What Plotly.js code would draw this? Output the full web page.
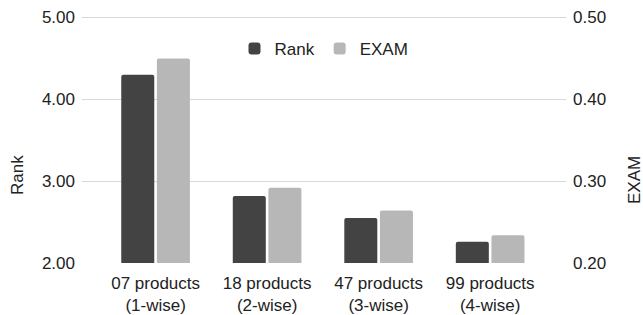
<!DOCTYPE html>
<html>
<head>
<meta charset="utf-8">
<script src="https://cdn.plot.ly/plotly-3.0.1.min.js"></script>
<style>html,body{margin:0;padding:0;background:#fff;}#chart{width:643px;height:315px;}</style>
</head>
<body>
<div id="chart"></div>
<script>
const categories = ["07 products<br>(1-wise)", "18 products<br>(2-wise)", "47 products<br>(3-wise)", "99 products<br>(4-wise)"];
const rankValues = [4.30, 2.82, 2.55, 2.26];
const examValues = [0.450, 0.292, 0.264, 0.234];
const rankTicks = [2, 3, 4, 5];
const examTicks = [0.2, 0.3, 0.4, 0.5];

const fam = "Liberation Sans, Arial, sans-serif";
const txt = {family: fam, size: 17, color: "#222"};

const traces = [
  {type: "bar", name: "Rank", x: categories, y: rankValues, yaxis: "y",
   width: 0.296, offset: -0.308, marker: {color: "#434343", cornerradius: 2}, hoverinfo: "y"},
  {type: "bar", name: "EXAM", x: categories, y: examValues, yaxis: "y2",
   width: 0.296, offset: 0.0115, marker: {color: "#b7b7b7", cornerradius: 2}, hoverinfo: "y"}
];

const H = 248, T = 15;
const layout = {
  width: 643, height: 315,
  margin: {l: 82, r: 77, t: T, b: 52},
  paper_bgcolor: "#fff", plot_bgcolor: "#fff",
  font: txt,
  showlegend: true,
  legend: {orientation: "h", x: 0.5, xanchor: "center", y: 1 - (49 - T) / H, yanchor: "middle",
           font: txt, bgcolor: "rgba(0,0,0,0)"},
  xaxis: {type: "category", range: [-0.66, 3.68], showgrid: false, zeroline: false, showline: false,
          ticks: "", ticklabelstandoff: 8, tickfont: txt},
  yaxis: {range: [2, 5.03], tickvals: rankTicks, tickformat: ".2f", showgrid: true, gridcolor: "#d9d9d9",
          zeroline: false, showline: false, ticks: "", ticklabelstandoff: 6, tickfont: txt},
  yaxis2: {range: [0.2, 0.503], tickvals: examTicks, tickformat: ".2f", overlaying: "y", side: "right",
           showgrid: false, zeroline: false, showline: false, ticks: "", ticklabelstandoff: 6, tickfont: txt},
  annotations: [
    {text: "Rank", xref: "paper", yref: "paper", x: (17 - 82) / 484, y: 1 - (175 - T) / H, textangle: -90,
     showarrow: false, xanchor: "center", yanchor: "middle", font: txt},
    {text: "EXAM", xref: "paper", yref: "paper", x: (634 - 82) / 484, y: 1 - (180 - T) / H, textangle: -90,
     showarrow: false, xanchor: "center", yanchor: "middle", font: txt}
  ]
};

Plotly.newPlot("chart", traces, layout, {displayModeBar: false, staticPlot: true});
</script>
</body>
</html>
